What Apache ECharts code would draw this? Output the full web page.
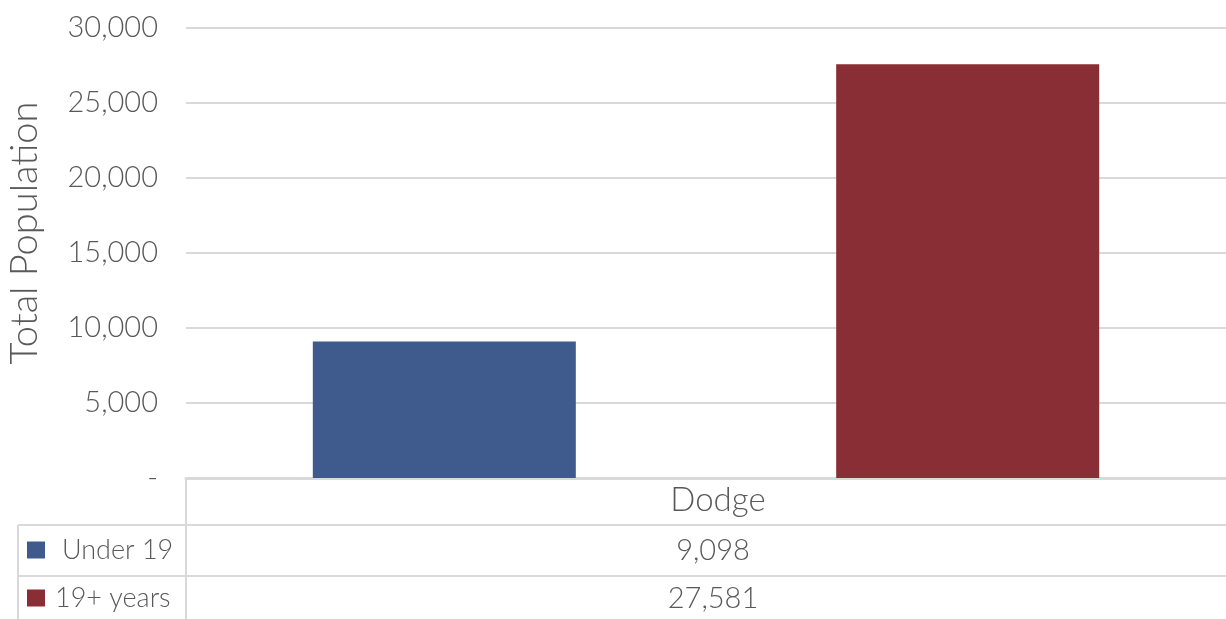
<!DOCTYPE html>
<html><head><meta charset="utf-8">
<script src="https://cdn.jsdelivr.net/npm/echarts@6/dist/echarts.min.js"></script>
<style>html,body{margin:0;padding:0;background:#fff}#c{width:1226px;height:619px}</style>
</head><body><div id="c"></div>
<script>
var categories = ['Dodge'];
var seriesNames = ['Under 19', '19+ years'];
var under19 = [9098];
var over19 = [27581];
var colors = ['#3F5A8C', '#8A2E35'];
var yTicks = [0, 5000, 10000, 15000, 20000, 25000, 30000];

var FONT = 'Lato, sans-serif';
var W = 300;
var TXT = '#595959';
var LINE = '#D9D9D9';
var chart = echarts.init(document.getElementById('c'));
function fmt(v){ return v === 0 ? '-' : v.toLocaleString('en-US'); }

var L = 186, R = 1226, T = 28, B = 478;
var row1 = 525, row2 = 576, bot = 619;
var allSeries = [under19, over19];
var g = [];
g.push({type:'line', shape:{x1:L, y1:B, x2:L, y2:bot}, style:{stroke:LINE, lineWidth:2}});
g.push({type:'line', shape:{x1:18, y1:row1, x2:R, y2:row1}, style:{stroke:LINE, lineWidth:2}});
g.push({type:'line', shape:{x1:18, y1:row2, x2:R, y2:row2}, style:{stroke:LINE, lineWidth:2}});
g.push({type:'line', shape:{x1:18, y1:row1, x2:18, y2:bot}, style:{stroke:LINE, lineWidth:2}});
var rowsY = [(row1+row2)/2, (row2+bot)/2 + 1];
seriesNames.forEach(function(n, i){
  g.push({type:'rect', shape:{x:27, y:rowsY[i]-9, width:18, height:17}, style:{fill:colors[i]}});
  g.push({type:'text', x: i===0 ? 62 : 55, y: rowsY[i], style:{text:n, font:W+' 27px '+FONT, fill:TXT, verticalAlign:'middle', align:'left'}});
  g.push({type:'text', x: 713, y: rowsY[i], style:{text:fmt(allSeries[i][0]), font:W+' 29px '+FONT, fill:TXT, verticalAlign:'middle', align:'center'}});
});
g.push({type:'text', x:25, y:233, rotation:Math.PI/2, style:{text:'Total Population', font:W+' 38px '+FONT, fill:TXT, align:'center', verticalAlign:'middle'}});

chart.setOption({
  animation:false,
  grid:{left:L, width:1046, top:T, bottom:619-B},
  xAxis:{type:'category', data:categories,
    axisLine:{lineStyle:{color:LINE, width:3}}, axisTick:{show:false},
    axisLabel:{color:TXT, fontFamily:FONT, fontWeight:W, fontSize:33, margin:6, padding:[0,0,0,24]}},
  yAxis:{type:'value', min:yTicks[0], max:yTicks[yTicks.length-1], interval:5000,
    axisLine:{show:false}, axisTick:{show:false},
    splitLine:{lineStyle:{color:LINE, width:2}},
    axisLabel:{color:TXT, fontFamily:FONT, fontWeight:W, fontSize:29, margin:28, formatter:fmt}},
  series:[
    {name:seriesNames[0], type:'bar', data:under19, barWidth:263, barGap:'99%', itemStyle:{color:colors[0]}},
    {name:seriesNames[1], type:'bar', data:over19, barWidth:263, barGap:'99%', itemStyle:{color:colors[1]}}
  ],
  graphic:g
});
</script></body></html>
